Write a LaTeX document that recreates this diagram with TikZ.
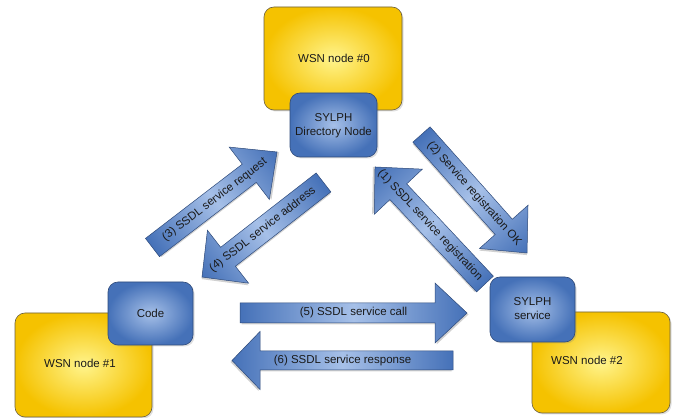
\documentclass[tikz,border=0pt]{standalone}
\usepackage{fontspec}
\setmainfont{Liberation Sans}
\usetikzlibrary{shadows}
\definecolor{ydark}{HTML}{F5C200}
\definecolor{ylight}{HTML}{FFF48C}
\definecolor{bdark}{HTML}{4571B8}
\definecolor{blight}{HTML}{A6C0E8}
\definecolor{bline}{HTML}{2E4A7A}
\definecolor{yline}{HTML}{6B6040}
\definecolor{txt}{HTML}{1A1A1A}
\tikzset{
  wsn/.style={draw=yline, line width=0.6pt, rounded corners=10pt, inner color=ylight, outer color=ydark,
    drop shadow={opacity=0.25, shadow xshift=1.5pt, shadow yshift=-1.5pt}},
  sylph/.style={draw=bline, line width=0.6pt, rounded corners=10pt, inner color=blight, outer color=bdark,
    drop shadow={opacity=0.25, shadow xshift=1.5pt, shadow yshift=-1.5pt}},
  lbl/.style={font=\fontsize{11.5}{14.5}\selectfont, text=txt, align=center, inner sep=0pt},
  barrow/.style={draw=bline, line width=0.5pt, left color=bdark, right color=bdark, middle color=blight},
  bshadow/.style={fill=black, opacity=0.18},
}
% #1 name, #2 center, #3 angle, #4 length, #5 shaft, #6 head, #7 head length, #8 dir, #9 text
\newcommand\blockarrow[9]{%
  \begin{scope}[transform canvas={shift={#2},rotate=#3}]
    \begin{scope}[xscale=#8]
      \path[bshadow] (-#4/2+1.5,-#5/2-1.5) -- (#4/2-#7+1.5,-#5/2-1.5) -- (#4/2-#7+1.5,-#6/2-1.5)
        -- (#4/2+1.5,-1.5) -- (#4/2-#7+1.5,#6/2-1.5) -- (#4/2-#7+1.5,#5/2-1.5) -- (-#4/2+1.5,#5/2-1.5) -- cycle;
      \path[barrow] (-#4/2,-#5/2) -- (#4/2-#7,-#5/2) -- (#4/2-#7,-#6/2)
        -- (#4/2,0) -- (#4/2-#7,#6/2) -- (#4/2-#7,#5/2) -- (-#4/2,#5/2) -- cycle;
    \end{scope}
    \node[lbl] (#1) at (0,0) {#9};
  \end{scope}}
\begin{document}
\begin{tikzpicture}[x=1pt,y=1pt]
\useasboundingbox[fill=white] (0,0) rectangle (673,418);
% boxes
\node[wsn, minimum width=138pt, minimum height=103pt] (w0) at (333,359.5) {};
\node[lbl] (w0t) at (334,360) {WSN node \#0};
\node[sylph, minimum width=87pt, minimum height=64pt] (sdn) at (333.5,293) {};
\node[lbl] (sdnt) at (333.5,292.5) {SYLPH\\Directory Node};

\node[wsn, minimum width=137pt, minimum height=104pt] (w1) at (83.5,53) {};
\node[lbl] (w1t) at (80,55) {WSN node \#1};
\node[sylph, minimum width=85pt, minimum height=63pt] (code) at (150.5,104.5) {};
\node[lbl] (codet) at (150.5,105) {Code};

\node[wsn, minimum width=138pt, minimum height=101pt] (w2) at (601,55.5) {};
\node[lbl] (w2t) at (587,58) {WSN node \#2};
\node[sylph, minimum width=85pt, minimum height=65pt] (ss) at (532.5,108.5) {};
\node[lbl] (sst) at (532.5,109.5) {SYLPH\\service};

% block arrows
\blockarrow{a5}{(353.5,105)}{0}{227}{20}{60}{32}{1}{(5) SSDL service call}
\blockarrow{a6}{(342.5,57.5)}{0}{221}{19}{58}{28}{-1}{(6) SSDL service response}
\blockarrow{a3}{(214.75,218.25)}{37.5}{157}{23}{66}{35}{1}{(3) SSDL service request}
\blockarrow{a4}{(262.75,188.25)}{37.9}{154}{24}{67}{33}{-1}{(4) SSDL service address}
\blockarrow{a1}{(430,192.5)}{-46.8}{160.6}{23}{66}{34}{-1}{(1) SSDL service registration}
\blockarrow{a2}{(474.25,224.25)}{-48.3}{158.7}{23}{65}{35}{1}{(2) Service registration OK}
\end{tikzpicture}
\end{document}
